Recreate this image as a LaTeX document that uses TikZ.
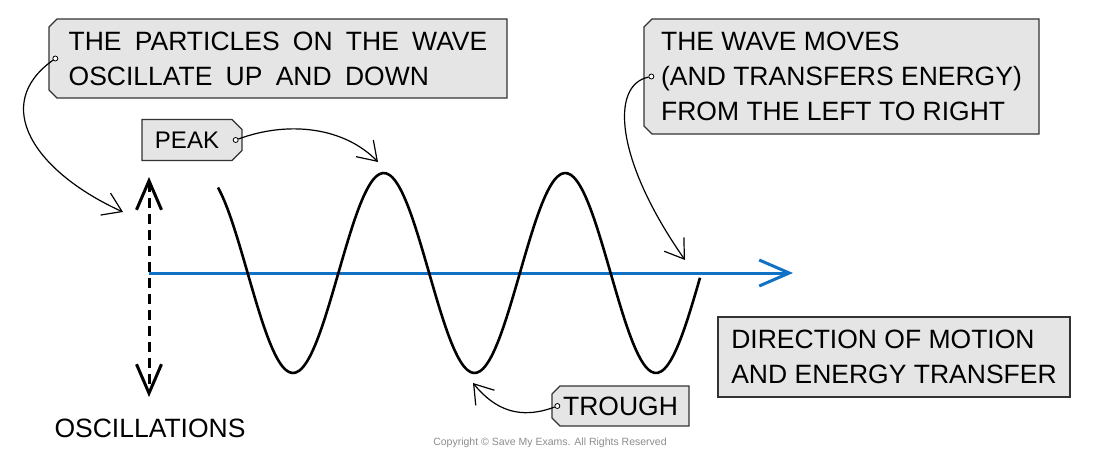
\documentclass[tikz,border=0pt]{standalone}
\usepackage{fontspec}
\setmainfont{Liberation Sans}
\newfontfamily\widefont[WordSpace=1.8]{Liberation Sans}
\usetikzlibrary{arrows.meta,shapes.misc}
\definecolor{tagfill}{RGB}{229,229,229}
\definecolor{tagline}{RGB}{51,51,51}
\definecolor{axisblue}{RGB}{16,114,196}

\begin{document}
\begin{tikzpicture}[x=1pt,y=-1pt,
  >={Straight Barb[length=18pt,width=24pt]},
  label/.style={font=\fontsize{26.5}{35}\selectfont,align=left,inner sep=0pt},
  tagbox/.style={label,draw=tagline,fill=tagfill,line width=1.3pt,chamfered rectangle,chamfered rectangle sep=4pt},
  tagleft/.style={tagbox,chamfered rectangle corners={north west,south west}},
  tagright/.style={tagbox,chamfered rectangle corners={north east,south east}},
  hole/.style={circle,draw,fill=white,line width=0.8pt,inner sep=0pt,minimum size=5pt},
  pointer/.style={->,line width=1.2pt},
  axisline/.style={-{Straight Barb[length=30pt,width=26pt]},draw=axisblue,line width=3pt},
  oscline/.style={{Straight Barb[length=29pt,width=25pt]}-{Straight Barb[length=29pt,width=25pt]},line width=3pt,dash pattern=on 10pt off 6pt}]
\useasboundingbox (0,0) rectangle (1100,458);

% the wave on its axis
\coordinate (axis-start) at (149,273);
\coordinate (axis-end) at (793,273);
\draw[axisline] (axis-start) -- (axis-end);
\draw[line width=2.6pt] plot[domain=218:700,samples=150,smooth] (\x,{273+100*cos(1.98347*(\x-293))});
\coordinate (osc-top) at (149,177);
\coordinate (osc-bottom) at (149,397);
\draw[oscline] (osc-top) -- (osc-bottom);
\node[label] (osc-label) at (150,428) {OSCILLATIONS};

% labels
\node[tagleft,minimum width=458pt,minimum height=79pt,font=\widefont\fontsize{26.5}{35}\selectfont] (particles) at (278,58.5) {THE PARTICLES ON THE WAVE\\OSCILLATE UP AND DOWN};
\node[tagleft,minimum width=395pt,minimum height=115pt] (moves) at (841.5,76.5) {THE WAVE MOVES\\(AND TRANSFERS ENERGY)\\FROM THE LEFT TO RIGHT};
\node[tagright,minimum width=100pt,minimum height=41pt,font=\fontsize{24}{28}\selectfont,chamfered rectangle sep=5pt] (peak) at (192,140) {PEAK\hspace*{10pt}};
\node[tagleft,minimum width=137pt,minimum height=40pt] (trough) at (620.5,406) {TROUGH};
\node[label,draw=tagline,fill=tagfill,line width=1.3pt,minimum width=352pt,minimum height=80pt] (direction) at (894,357) {DIRECTION OF MOTION\\AND ENERGY TRANSFER};
\node[font=\fontsize{10.5}{12}\selectfont,text=black!45] (copyright) at (550,443) {Copyright \textcopyright{} Save My Exams. All Rights Reserved};

\node[hole] (particles-hole) at ([xshift=7pt]particles.west) {};
\node[hole] (moves-hole) at ([xshift=8pt]moves.west) {};
\node[hole] (peak-hole) at ([xshift=-7pt]peak.east) {};
\node[hole] (trough-hole) at ([xshift=6pt]trough.west) {};

% pointers
\coordinate (osc-mark) at (123,212);
\coordinate (peak-mark) at (378,162);
\coordinate (trough-mark) at (473,383);
\coordinate (axis-mark) at (685,260);
\draw[pointer] (particles-hole) .. controls (-10,105) and (35,172) .. (osc-mark);
\draw[pointer] (peak-hole) .. controls (290,120) and (345,128) .. (peak-mark);
\draw[pointer] (moves-hole) .. controls (610,85) and (615,160) .. (axis-mark);
\draw[pointer] (trough-hole) .. controls (520,420) and (495,410) .. (trough-mark);
\end{tikzpicture}
\end{document}
